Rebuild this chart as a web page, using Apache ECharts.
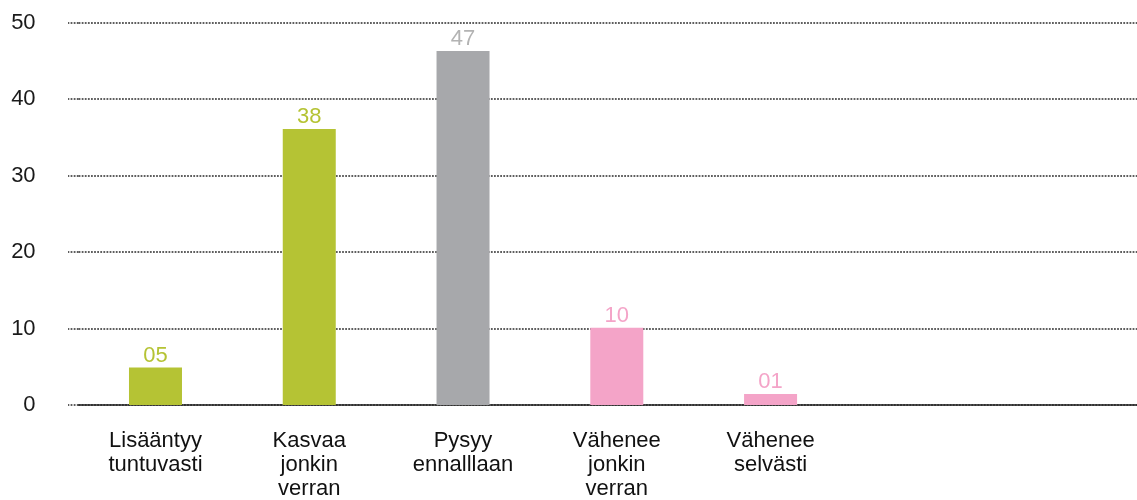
<!DOCTYPE html>
<html>
<head>
<meta charset="utf-8">
<script src="https://cdn.jsdelivr.net/npm/echarts@6/dist/echarts.min.js"></script>
<style>
  html, body { margin: 0; padding: 0; background: #fff; }
  #chart { width: 1137px; height: 500px; }
</style>
</head>
<body>
<div id="chart"></div>
<script>
// categories (last two are empty slots on the axis)
const categories = [
  'Lisääntyy\ntuntuvasti',
  'Kasvaa\njonkin\nverran',
  'Pysyy\nennalllaan',
  'Vähenee\njonkin\nverran',
  'Vähenee\nselvästi',
  '',
  ''
];
// bar heights
const values = [4.9, 36.1, 46.3, 10.1, 1.45];
// printed labels above the bars
const valueLabels = ['05', '38', '47', '10', '01'];
const barColors = ['#b5c334', '#b5c334', '#a7a8ab', '#f4a4c8', '#f4a4c8'];
const labelColors = ['#b5c334', '#b5c334', '#b3b3b3', '#f4a4c8', '#f4a4c8'];
const yTicks = [0, 10, 20, 30, 40, 50];

const font = '"Liberation Sans", Arial, Helvetica, sans-serif';
const dotted = { color: '#2a2a2a', width: 1.5, type: [1.8, 1.3] };

const chart = echarts.init(document.getElementById('chart'));

const option = {
  backgroundColor: '#fff',
  animation: false,
  grid: {
    left: 78.6,
    right: -18,
    top: 22.7,
    bottom: 95,
    containLabel: false,
    outerBoundsMode: 'none'
  },
  xAxis: {
    type: 'category',
    data: categories,
    axisTick: { show: false },
    axisLine: { lineStyle: { color: '#222', width: 1.5 } },
    axisLabel: {
      interval: 0,
      margin: 24,
      color: '#111',
      fontFamily: font,
      fontSize: 22,
      lineHeight: 24
    },
    splitLine: { show: false }
  },
  yAxis: {
    type: 'value',
    min: yTicks[0],
    max: yTicks[yTicks.length - 1],
    interval: 10,
    axisLine: { show: false },
    axisTick: { show: true, length: 10.6, lineStyle: dotted },
    axisLabel: {
      margin: 43,
      color: '#1a1a1a',
      fontFamily: font,
      fontSize: 22
    },
    splitLine: { lineStyle: dotted }
  },
  series: [
    {
      type: 'bar',
      barWidth: 53,
      data: values.map((v, i) => ({
        value: v,
        itemStyle: { color: barColors[i] },
        label: { color: labelColors[i] }
      })),
      label: {
        show: true,
        position: 'top',
        distance: 1,
        fontFamily: font,
        fontSize: 22,
        formatter: p => valueLabels[p.dataIndex]
      }
    }
  ]
};

chart.setOption(option);
</script>
</body>
</html>
